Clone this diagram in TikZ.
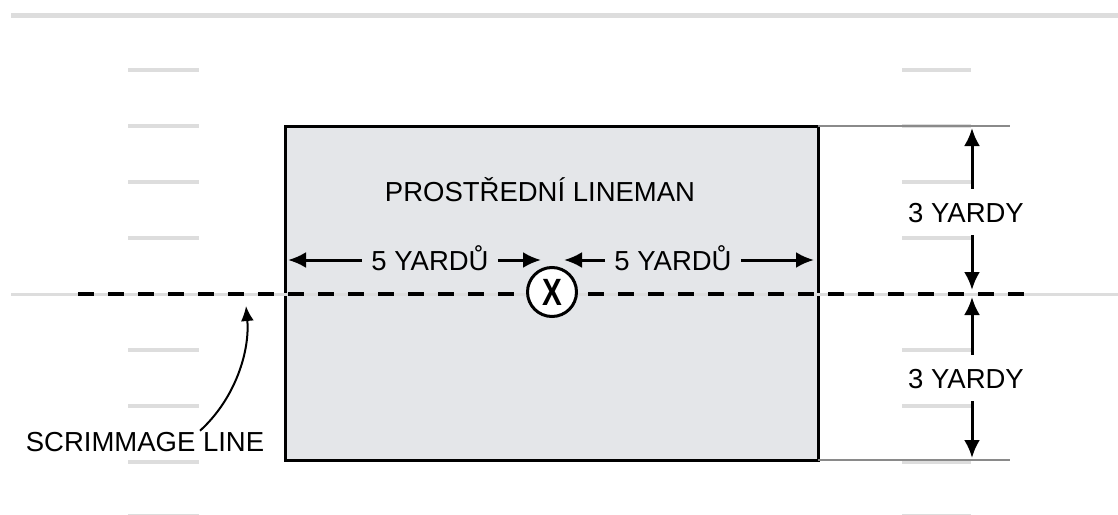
\documentclass[tikz,border=0pt]{standalone}
\usepackage{fontspec}
\usepackage{graphicx}
\setmainfont{Liberation Sans}
\usetikzlibrary{arrows.meta}

\definecolor{fieldgray}{HTML}{DDDDDD}
\definecolor{zonefill}{HTML}{E4E6E9}
\definecolor{guidegray}{HTML}{8A8A8A}

\tikzset{
  x=1pt, y=-1pt,
  sideline/.style={line width=5pt, color=fieldgray},
  hashmark/.style={line width=4pt, color=fieldgray},
  scrimgray/.style={line width=3pt, color=fieldgray},
  zonebox/.style={draw=black, fill=zonefill, line width=3pt, inner sep=0pt,
                  outer sep=0pt, minimum width=533pt, minimum height=334pt},
  guide/.style={line width=1.5pt, color=guidegray},
  scrimdash/.style={line width=4pt, dash pattern=on 16pt off 14pt},
  spot/.style={circle, draw=black, fill=white, line width=3pt, inner sep=0pt,
               minimum size=49pt},
  txt/.style={font=\fontsize{27.5}{27.5}\selectfont},
  lbl/.style={txt, text height=20pt, text depth=0pt,
              inner ysep=13pt, inner xsep=9pt},
  arr/.style={line width=3pt, -{Latex[length=18pt,width=16pt]}},
  thinarr/.style={line width=2pt, -{Latex[length=15pt,width=13pt]}},
}

\begin{document}
\begin{tikzpicture}
  \useasboundingbox (0,0) rectangle (1118,514);
  \fill[white] (0,0) rectangle (1118,514);

  % sideline and hash marks
  \draw[sideline] (11,15) -- (1118,15);
  \foreach \yy in {70,126,182,238,350,406,462,516} {
    \draw[hashmark] (128,\yy) -- (199,\yy);
    \draw[hashmark] (902,\yy) -- (971,\yy);
  }

  % zone around the lineman
  \node[zonebox] (zone) at (551.5,293) {};

  % line of scrimmage
  \draw[scrimgray] (11,294) -- (1118,294);

  % guide lines marking the zone depth
  \coordinate (topguide) at (1010,126);
  \coordinate (botguide) at (1010,460);
  \draw[guide] (zone.north east) -- (topguide);
  \draw[guide] (zone.south east) -- (botguide);

  % dashed scrimmage line
  \coordinate (dashstart) at (78,294);
  \coordinate (dashend) at (1027,294);
  \draw[scrimdash] (dashstart) -- (dashend);

  % the lineman
  \node[spot] (man) at (552,292)
    {\scalebox{0.78}[1]{\fontsize{38}{38}\selectfont\bfseries X}};

  % labels
  \node[txt] (title) at (540,190) {PROSTŘEDNÍ LINEMAN};
  \node[lbl] (l5) at (430,260) {5 YARDŮ};
  \node[lbl] (r5) at (673,260) {5 YARDŮ};
  \node[lbl] (u3) at (966,212) {3 YARDY};
  \node[lbl] (d3) at (966,378) {3 YARDY};
  \node[txt] (scrim) at (145,442) {SCRIMMAGE LINE};

  % horizontal distance arrows
  \coordinate (lin) at (541,260);
  \coordinate (rin) at (564,260);
  \draw[arr] (l5.west) -- ([xshift=3pt]zone.west |- l5);
  \draw[arr] (l5.east) -- (lin);
  \draw[arr] (r5.west) -- (rin);
  \draw[arr] (r5.east) -- ([xshift=-4pt]zone.east |- r5);

  % vertical distance arrows
  \coordinate (topmark) at (972,128);
  \coordinate (midup) at (972,290);
  \coordinate (middown) at (972,297);
  \coordinate (botmark) at (972,458);
  \draw[arr] (u3.north -| topmark) -- (topmark);
  \draw[arr] (u3.south -| topmark) -- (midup);
  \draw[arr] (d3.north -| topmark) -- (middown);
  \draw[arr] (d3.south -| topmark) -- (botmark);

  % pointer to the scrimmage line
  \coordinate (scrimtip) at (246,306);
  \draw[thinarr] ([xshift=55pt,yshift=-2pt]scrim.north) .. controls (236,398) and (250,350) .. (scrimtip);
\end{tikzpicture}
\end{document}
